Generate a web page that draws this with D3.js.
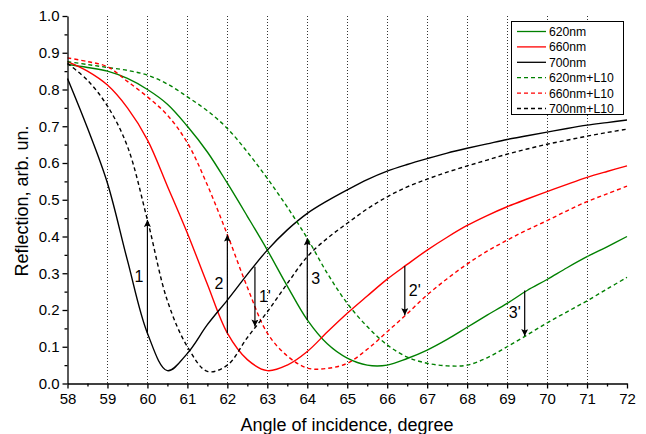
<!DOCTYPE html>
<html>
<head>
<meta charset="utf-8">
<script src="https://cdnjs.cloudflare.com/ajax/libs/d3/7.8.5/d3.min.js"></script>
<style>
  html, body { margin: 0; padding: 0; background: #fff; }
  svg { display: block; font-family: Arial, "Liberation Sans", sans-serif; }
</style>
</head>
<body>
<svg id="chart" width="646" height="434"></svg>
<script>
// Angle of incidence, degrees
const angles = [58, 58.5, 59, 59.5, 60, 60.5, 61, 61.5, 62, 62.5, 63, 63.5, 64, 64.5,
  65, 65.5, 66, 66.5, 67, 67.5, 68, 68.5, 69, 69.5, 70, 70.5, 71, 71.5, 72];

// Reflection curves
const r620 = [0.868, 0.860, 0.850, 0.830, 0.800, 0.760, 0.700, 0.630, 0.545, 0.455, 0.363, 0.265, 0.173, 0.108,
  0.069, 0.050, 0.050, 0.068, 0.091, 0.120, 0.153, 0.186, 0.218, 0.253, 0.283, 0.315, 0.345, 0.372, 0.400];
const r660 = [0.876, 0.850, 0.812, 0.750, 0.663, 0.537, 0.409, 0.270, 0.137, 0.065, 0.035, 0.050, 0.087, 0.140,
  0.191, 0.238, 0.284, 0.324, 0.363, 0.398, 0.430, 0.457, 0.481, 0.502, 0.522, 0.542, 0.561, 0.577, 0.592];
const r700 = [0.830, 0.695, 0.545, 0.335, 0.137, 0.035, 0.082, 0.160, 0.227, 0.297, 0.363, 0.418, 0.463, 0.497,
  0.527, 0.555, 0.578, 0.596, 0.612, 0.627, 0.640, 0.652, 0.664, 0.674, 0.684, 0.694, 0.703, 0.710, 0.717];
const r620L = [0.876, 0.868, 0.860, 0.852, 0.839, 0.815, 0.780, 0.742, 0.694, 0.630, 0.558, 0.480, 0.395, 0.300,
  0.218, 0.155, 0.105, 0.072, 0.055, 0.048, 0.050, 0.070, 0.100, 0.132, 0.165, 0.195, 0.225, 0.257, 0.289];
const r660L = [0.886, 0.876, 0.862, 0.822, 0.780, 0.730, 0.655, 0.540, 0.405, 0.262, 0.137, 0.075, 0.042, 0.041,
  0.055, 0.093, 0.141, 0.190, 0.241, 0.285, 0.325, 0.360, 0.390, 0.418, 0.443, 0.470, 0.495, 0.516, 0.537];
const r700L = [0.871, 0.825, 0.755, 0.645, 0.445, 0.225, 0.100, 0.033, 0.050, 0.125, 0.195, 0.272, 0.345, 0.395,
  0.436, 0.475, 0.508, 0.535, 0.556, 0.575, 0.592, 0.608, 0.624, 0.638, 0.651, 0.662, 0.673, 0.683, 0.692];

const seriesNames = ["620nm", "660nm", "700nm", "620nm+L10", "660nm+L10", "700nm+L10"];
const seriesValues = [r620, r660, r700, r620L, r660L, r700L];
const seriesColors = ["#008000", "#ff0000", "#000000", "#008000", "#ff0000", "#000000"];
const seriesDashed = [false, false, false, true, true, true];

// Shift arrows: angle, start value, end value, label, label side
const arrowAngles = [60, 62, 62.69, 64, 66.44, 69.44];
const arrowFrom = [0.137, 0.137, 0.318, 0.173, 0.320, 0.253];
const arrowTo = [0.445, 0.405, 0.155, 0.395, 0.186, 0.129];
const arrowLabels = ["1", "2", "1'", "3", "2'", "3'"];
const arrowLabelSide = ["left", "left", "right", "right", "right", "left"];

const xTicks = d3.range(58, 72.01, 1);
const xMinorTicks = d3.range(58.5, 72, 1);
const yTicks = d3.range(0, 1.001, 0.1);
const yMinorTicks = d3.range(0.05, 1, 0.1);
const gridAngles = d3.range(59, 71.01, 1);

const svg = d3.select("#chart");
const x = d3.scaleLinear().domain([58, 72]).range([67.5, 627]);
const y = d3.scaleLinear().domain([0, 1]).range([383.5, 16]);

// vertical dotted grid
svg.append("g").selectAll("line").data(gridAngles).join("line")
  .attr("x1", d => Math.round(x(d)) + 0.5).attr("x2", d => Math.round(x(d)) + 0.5)
  .attr("y1", y(1)).attr("y2", y(0))
  .attr("stroke", "#333").attr("stroke-width", 1)
  .attr("stroke-dasharray", "1,2");

// curves
const line = d3.line().x(d => x(d[0])).y(d => y(d[1])).curve(d3.curveCatmullRom.alpha(0.5));
svg.append("g").selectAll("path").data(seriesValues).join("path")
  .attr("d", vals => line(angles.map((a, i) => [a, vals[i]])))
  .attr("fill", "none")
  .attr("stroke", (d, i) => seriesColors[i])
  .attr("stroke-width", 1.4)
  .attr("stroke-dasharray", (d, i) => seriesDashed[i] ? "4,3" : null);

// arrows
svg.append("defs").append("marker")
  .attr("id", "head").attr("viewBox", "0 0 10 10")
  .attr("refX", 10).attr("refY", 5)
  .attr("markerWidth", 10).attr("markerHeight", 7)
  .attr("markerUnits", "userSpaceOnUse")
  .attr("orient", "auto")
  .append("path").attr("d", "M0,0 L10,5 L0,10 L2,5 Z").attr("fill", "#000");

const arrows = arrowAngles.map((a, i) => ({ a, from: arrowFrom[i], to: arrowTo[i], label: arrowLabels[i], side: arrowLabelSide[i] }));
const ag = svg.append("g");
ag.selectAll("line").data(arrows).join("line")
  .attr("x1", d => x(d.a)).attr("x2", d => x(d.a))
  .attr("y1", d => y(d.from)).attr("y2", d => y(d.to))
  .attr("stroke", "#000").attr("stroke-width", 1.2)
  .attr("marker-end", "url(#head)");
ag.selectAll("text").data(arrows).join("text")
  .attr("x", d => x(d.a) + (d.side === "left" ? -4 : 4))
  .attr("y", d => y((d.from + d.to) / 2) + 5)
  .attr("text-anchor", d => d.side === "left" ? "end" : "start")
  .attr("font-size", 16)
  .text(d => d.label);

// axes
function styleAxis(g) {
  g.selectAll("line, path").attr("stroke", "#000").attr("stroke-width", 1.3);
  g.selectAll("text").attr("font-size", 15).attr("fill", "#000")
    .attr("font-family", "Arial, 'Liberation Sans', sans-serif");
}
svg.append("g").attr("transform", `translate(0,${y(0)})`)
  .call(d3.axisBottom(x).tickValues(xMinorTicks).tickSize(3).tickFormat(""))
  .call(g => g.select(".domain").remove())
  .call(styleAxis);
svg.append("g").attr("transform", `translate(0,${y(0)})`)
  .call(d3.axisBottom(x).tickValues(xTicks).tickSize(5).tickSizeOuter(0).tickFormat(d3.format("d")))
  .call(styleAxis)
  .call(g => g.selectAll("text").attr("dy", "0.8em"));

svg.append("g").attr("transform", `translate(${x(58)},0)`)
  .call(d3.axisLeft(y).tickValues(yMinorTicks).tickSize(3).tickFormat(""))
  .call(g => g.select(".domain").remove())
  .call(styleAxis);
svg.append("g").attr("transform", `translate(${x(58)},0)`)
  .call(d3.axisLeft(y).tickValues(yTicks).tickSize(5).tickSizeOuter(0).tickFormat(d3.format(".1f")))
  .call(styleAxis)
  .call(g => g.selectAll("text").attr("x", -8));

// axis titles
svg.append("text").attr("x", 347).attr("y", 431).attr("text-anchor", "middle")
  .attr("font-size", 18).text("Angle of incidence, degree");
svg.append("text").attr("transform", "translate(28,201) rotate(-90)").attr("text-anchor", "middle")
  .attr("font-size", 18).text("Reflection, arb. un.");

// legend
const lg = svg.append("g");
lg.append("rect").attr("x", 511.5).attr("y", 21.5).attr("width", 112).attr("height", 93)
  .attr("fill", "#fff").attr("stroke", "#000").attr("stroke-width", 1);
const items = lg.selectAll("g").data(seriesNames).join("g")
  .attr("transform", (d, i) => `translate(0,${31.5 + i * 15.4})`);
items.append("line").attr("x1", 517).attr("x2", 546)
  .attr("stroke", (d, i) => seriesColors[i]).attr("stroke-width", 1.3)
  .attr("stroke-dasharray", (d, i) => seriesDashed[i] ? "4,3" : null);
items.append("text").attr("x", 549).attr("y", 4.5).attr("font-size", 12.2).text(d => d);
</script>
</body>
</html>
